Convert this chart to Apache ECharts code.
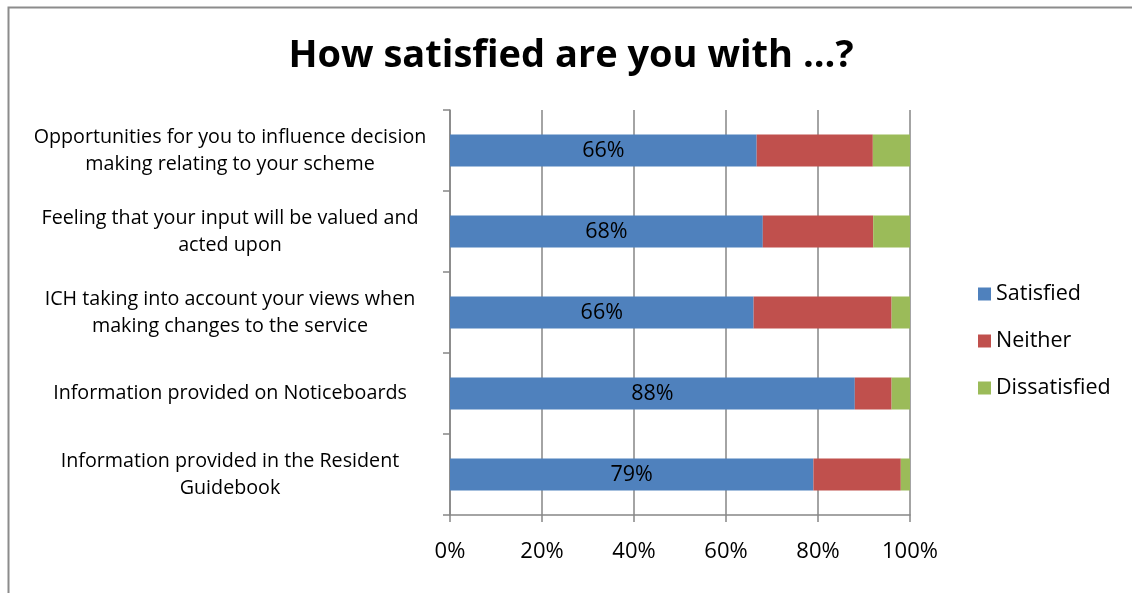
<!DOCTYPE html>
<html>
<head>
<meta charset="utf-8">
<script src="https://cdn.jsdelivr.net/npm/echarts@6/dist/echarts.min.js"></script>
<style>
html,body{margin:0;padding:0;background:#fff;}
#chart{width:1132px;height:593px;}
</style>
</head>
<body>
<div id="chart"></div>
<script>
var categories = [
  "Opportunities for you to influence decision\nmaking relating to your scheme",
  "Feeling that your input will be valued and\nacted upon",
  "ICH taking into account your views when\nmaking changes to the service",
  "Information provided on Noticeboards",
  "Information provided in the Resident\nGuidebook"
];
var satisfied    = [66, 68, 66, 88, 79];
var neither      = [25, 24, 30, 8, 19];
var dissatisfied = [8, 8, 4, 4, 2];
var seriesNames = ["Satisfied", "Neither", "Dissatisfied"];
var xTicks = [0, 20, 40, 60, 80, 100];

var FONT = "'Open Sans', Lato, sans-serif";
var raw = [satisfied, neither, dissatisfied];
var totals = satisfied.map(function(v, i){ return satisfied[i] + neither[i] + dissatisfied[i]; });
var colors = ["#4f81bd", "#c0504d", "#9bbb59"];

var series = raw.map(function(arr, k){
  return {
    name: seriesNames[k],
    type: 'bar',
    stack: 'total',
    barWidth: 32,
    itemStyle: { color: colors[k] },
    label: k === 0 ? {
      show: true, position: 'inside', color: '#000', fontFamily: FONT, fontSize: 21.5,
      formatter: function(p){ return satisfied[p.dataIndex] + '%'; }
    } : { show: false },
    emphasis: { disabled: true },
    data: arr.map(function(v, i){ return v / totals[i] * 100; })
  };
});

var chart = echarts.init(document.getElementById('chart'));
chart.setOption({
  animation: false,
  backgroundColor: '#fff',
  title: {
    text: 'How satisfied are you with ...?',
    left: 571, top: 37, textAlign: 'center', padding: 0,
    textStyle: { fontFamily: FONT, fontWeight: 'bold', fontSize: 38, color: '#000' }
  },
  legend: {
    orient: 'vertical', left: 978, top: 283, padding: 0,
    itemWidth: 13, itemHeight: 13, itemGap: 25,
    icon: 'rect',
    textStyle: { fontFamily: FONT, fontSize: 21.5, color: '#000' },
    data: seriesNames
  },
  grid: { left: 450, right: 222, top: 110, bottom: 78, containLabel: false },
  xAxis: {
    type: 'value', min: 0, max: 100, interval: 20,
    axisLine: { show: true, lineStyle: { color: '#868686', width: 1.5 } },
    axisTick: { show: true, length: 7, lineStyle: { color: '#868686', width: 1.5 } },
    splitLine: { show: true, lineStyle: { color: '#868686', width: 1.5 } },
    axisLabel: {
      margin: 26, color: '#000', fontFamily: FONT, fontSize: 22,
      formatter: function(v){ return xTicks.indexOf(v) >= 0 ? v + '%' : ''; }
    }
  },
  yAxis: {
    type: 'category', inverse: true, data: categories,
    axisLine: { show: true, lineStyle: { color: '#868686', width: 1.5 } },
    axisTick: { show: true, length: 7, alignWithLabel: false, lineStyle: { color: '#868686', width: 1.5 } },
    axisLabel: {
      margin: 22, color: '#000',
      formatter: function(v){ return '{a|' + v.split('\n').join('}\n{a|') + '}'; },
      rich: { a: { fontFamily: FONT, fontSize: 19.7, lineHeight: 27, width: 396, align: 'center', color: '#000' } }
    }
  },
  graphic: [{
    type: 'rect', left: 6, top: 5, silent: true,
    shape: { width: 1140, height: 600 },
    style: { fill: 'none', stroke: '#8c8c8c', lineWidth: 2 }
  }],
  series: series
});
</script>
</body>
</html>
